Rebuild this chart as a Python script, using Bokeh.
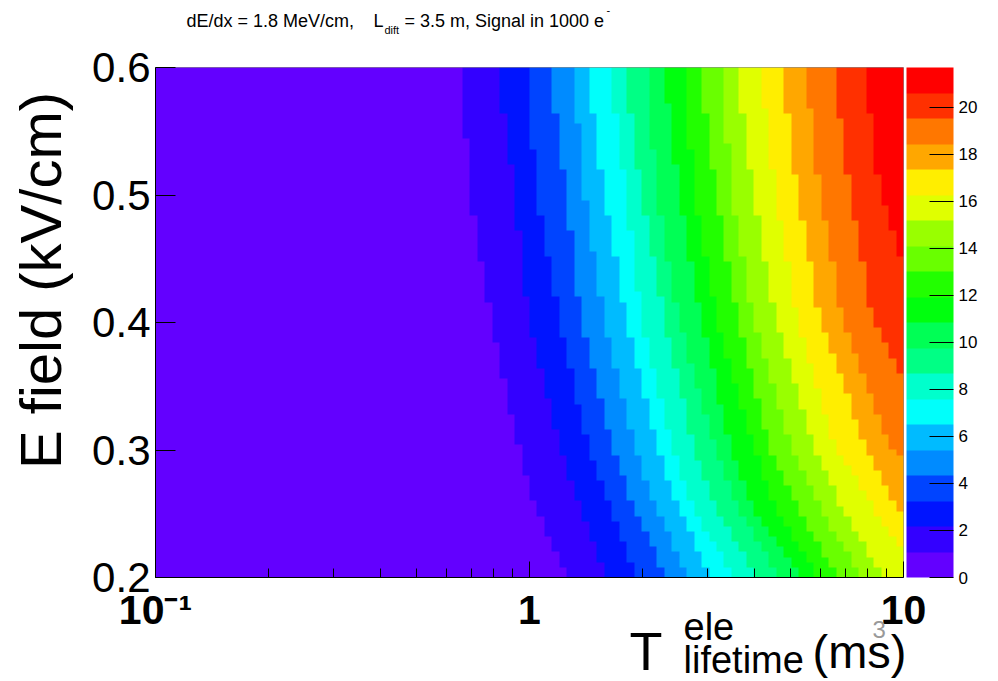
import numpy as np
from bokeh.plotting import figure
from bokeh.models import (LinearColorMapper, ColorBar, FixedTicker, Label,
                          Range1d, BoxAnnotation)
from bokeh.embed import file_html
from bokeh.resources import INLINE

# ---------------------------------------------------------------------------
# Data: collected signal (in 1000 e-) versus electron lifetime and drift field.
# The map is a 100 x 100 histogram drawn with 20 colour bands between 0 and Z_MAX.
# Each band edge is stored as a contour: the lifetime (ms) where the signal
# crosses that band edge, tabulated at a few drift-field values (kV/cm).
# ---------------------------------------------------------------------------
Z_MAX = 21.7
N_BANDS = 20

band_colors = ["#6300ff", "#3300ff", "#0014ff", "#0044ff", "#008bff",
               "#00bbff", "#00fffb", "#00ffcc", "#00ff85", "#00ff55",
               "#00ff0e", "#22ff00", "#69ff00", "#99ff00", "#e0ff00",
               "#ffee00", "#ffa700", "#ff7700", "#ff3000", "#ff0000"]

field_rows = [0.205, 0.255, 0.305, 0.405, 0.505, 0.595]

edge_lifetime_e0205 = [1.248, 1.575, 1.895, 2.280, 2.600, 2.991, 3.439, 3.948,
                       4.557, 5.209, 5.832, 6.527, 7.541, 8.614]
edge_lifetime_e0255 = [1.038, 1.369, 1.648, 1.891, 2.175, 2.495, 2.727, 3.148,
                       3.598, 3.948, 4.510, 5.187, 5.953, 6.833, 8.271, 9.449]
edge_lifetime_e0305 = [0.927, 1.198, 1.427, 1.655, 1.895, 2.175, 2.385, 2.727,
                       3.114, 3.439, 3.972, 4.346, 4.998, 5.713, 6.527, 7.853,
                       9.074]
edge_lifetime_e0405 = [0.786, 0.992, 1.198, 1.369, 1.575, 1.807, 1.982, 2.280,
                       2.486, 2.858, 3.148, 3.598, 3.948, 4.529, 5.187, 5.953,
                       6.833, 8.221]
edge_lifetime_e0505 = [0.688, 0.908, 1.038, 1.248, 1.395, 1.575, 1.807, 1.982,
                       2.175, 2.501, 2.744, 3.148, 3.453, 3.948, 4.529, 5.187,
                       5.953, 7.159, 8.614]
edge_lifetime_e0595 = [0.660, 0.824, 0.996, 1.138, 1.314, 1.432, 1.648, 1.807,
                       2.066, 2.289, 2.600, 2.852, 3.281, 3.598, 4.155, 4.750,
                       5.483, 6.527, 7.887]

edge_rows = [edge_lifetime_e0205, edge_lifetime_e0255, edge_lifetime_e0305,
             edge_lifetime_e0405, edge_lifetime_e0505, edge_lifetime_e0595]

# field (kV/cm) where the upper band edges 15..19 leave the map at 10 ms
exit_field = {14: 0.221, 15: 0.250, 16: 0.294, 17: 0.355, 18: 0.440}

x_ticks = [0.1, 1, 10]
x_minor = [0.2, 0.3, 0.4, 0.5, 0.6, 0.7, 0.8, 0.9, 2, 3, 4, 5, 6, 7, 8, 9]
y_ticks = [0.2, 0.3, 0.4, 0.5, 0.6]
z_ticks = [0, 2, 4, 6, 8, 10, 12, 14, 16, 18, 20]

# ---------------------------------------------------------------------------
# Histogram cells: band index of each (lifetime, field) bin
# ---------------------------------------------------------------------------
NX, NY = 100, 100
x_centers = -1.0 + (np.arange(NX) + 0.5) * (2.0 / NX)      # log10(ms)
y_centers = 0.2 + (np.arange(NY) + 0.5) * (0.4 / NY)       # kV/cm

band = np.zeros((NY, NX), dtype=float)
for k in range(N_BANDS - 1):
    pts = []
    if k in exit_field:
        pts.append((exit_field[k], 1.0))
    for e, row in zip(field_rows, edge_rows):
        if k < len(row):
            pts.append((e, np.log10(row[k])))
    pts.sort()
    e_pts = [q[0] for q in pts]
    l_pts = [q[1] for q in pts]
    edge = np.interp(y_centers, e_pts, l_pts)
    if k in exit_field:
        edge[y_centers < exit_field[k]] = np.inf
    band += (x_centers[None, :] >= edge[:, None])

# finer raster so the cell edges stay sharp when scaled
UP = 8
img = np.kron(band + 0.5, np.ones((UP, UP)))

# ---------------------------------------------------------------------------
# Page geometry (pixels): the plotting box sits at [BOX_L, BOX_R] x [BOX_T, BOX_B]
# and the scales are extended so that the whole canvas is the frame.
# ---------------------------------------------------------------------------
W, H = 998, 681
BOX_L, BOX_R, BOX_T, BOX_B = 155, 903, 67, 577
x0, x1 = x_ticks[0], x_ticks[-1]
y0, y1 = y_ticks[0], y_ticks[-1]
dec_px = (BOX_R - BOX_L) / (np.log10(x1) - np.log10(x0))
unit_px = (BOX_B - BOX_T) / (y1 - y0)
x_range = Range1d(10 ** (np.log10(x0) - BOX_L / dec_px),
                  10 ** (np.log10(x1) + (W - BOX_R) / dec_px))
y_range = Range1d(y0 - (H - BOX_B) / unit_px, y1 + BOX_T / unit_px)

FONT = "Liberation Sans"

p = figure(width=W, height=H, x_axis_type="log",
           x_range=x_range, y_range=y_range,
           output_backend="svg", toolbar_location=None,
           min_border=0, min_border_left=0, min_border_right=0,
           min_border_top=0, min_border_bottom=0)
p.grid.visible = False
p.outline_line_color = None
p.background_fill_color = "white"
p.border_fill_color = "white"

band_mapper = LinearColorMapper(palette=band_colors, low=0, high=N_BANDS)
p.image(image=[img], x=x0, y=y0, dw=x1 - x0, dh=y1 - y0,
        color_mapper=band_mapper)

p.add_layout(BoxAnnotation(left=x0, right=x1, bottom=y0, top=y1,
                           fill_color=None, line_color="black", line_width=1,
                           level="overlay"))

# axes, pinned to the edges of the plotting box
xa = p.xaxis[0]
xa.fixed_location = y0
xa.bounds = (x0, x1)
xa.ticker = FixedTicker(ticks=x_ticks, minor_ticks=x_minor)
xa.major_label_overrides = {0.1: "10\u207b\u00b9", 1: "1", 10: "10"}
xa.major_label_text_font = FONT
xa.major_label_text_font_style = "bold"
xa.major_label_text_font_size = "41px"
xa.major_label_text_color = "black"
xa.major_label_standoff = 9
xa.major_tick_in = 16
xa.major_tick_out = 0
xa.minor_tick_in = 9
xa.minor_tick_out = 0
xa.axis_line_color = "black"

ya = p.yaxis[0]
ya.fixed_location = x0
ya.bounds = (y0, y1)
ya.ticker = FixedTicker(ticks=y_ticks)
ya.major_label_text_font = FONT
ya.major_label_text_font_size = "42px"
ya.major_label_text_color = "black"
ya.major_label_standoff = 5
ya.major_tick_in = 20
ya.major_tick_out = 0
ya.minor_tick_line_color = None
ya.axis_line_color = "black"

# palette axis
z_mapper = LinearColorMapper(palette=band_colors, low=0, high=Z_MAX)
cb = ColorBar(color_mapper=z_mapper, ticker=FixedTicker(ticks=z_ticks),
              width=47, height=BOX_B - BOX_T, location=(BOX_R + 3, H - BOX_B),
              padding=0, margin=0,
              major_tick_in=24, major_tick_out=0,
              major_tick_line_color="black", minor_tick_line_color=None,
              major_label_text_font=FONT, major_label_text_font_size="17px",
              major_label_text_color="black",
              label_standoff=5, bar_line_color=None, border_line_color=None,
              background_fill_alpha=0)
p.add_layout(cb, "center")

# the renderer puts an "alphabetic" anchor about 0.35 em above the baseline
BASE_SHIFT = 0.35


def text(px, py, s, size, **kw):
    """Place a text with its baseline at canvas pixel (px, py), from top-left."""
    shift = BASE_SHIFT * size if kw.get("text_baseline") is None else 0
    opts = dict(text_font=FONT, text_font_size=f"{size}px", text_color="black",
                text_baseline="alphabetic", text_align="left",
                x_units="screen", y_units="screen", level="overlay")
    opts.update(kw)
    p.add_layout(Label(x=px, y=H - py + shift, text=s, **opts))


# title line
text(186, 27, "dE/dx = 1.8 MeV/cm,", 18)
text(373, 27, "L", 18)
text(384, 33, "dift", 11)
text(404, 27, "= 3.5 m, Signal in 1000 e", 18)
text(606, 13, "-", 11)

# axis titles
text(40, 280, "E field (kV/cm)", 58, angle=np.pi / 2,
     text_align="center", text_baseline="middle")
text(629, 669, "T", 54)
text(683, 640, "ele", 38)
text(683, 673, "lifetime", 38)
text(812, 667, "(ms)", 47)
text(872, 637, "3", 24, text_color="#999999")

open("out.html", "w").write(file_html(p, INLINE))
